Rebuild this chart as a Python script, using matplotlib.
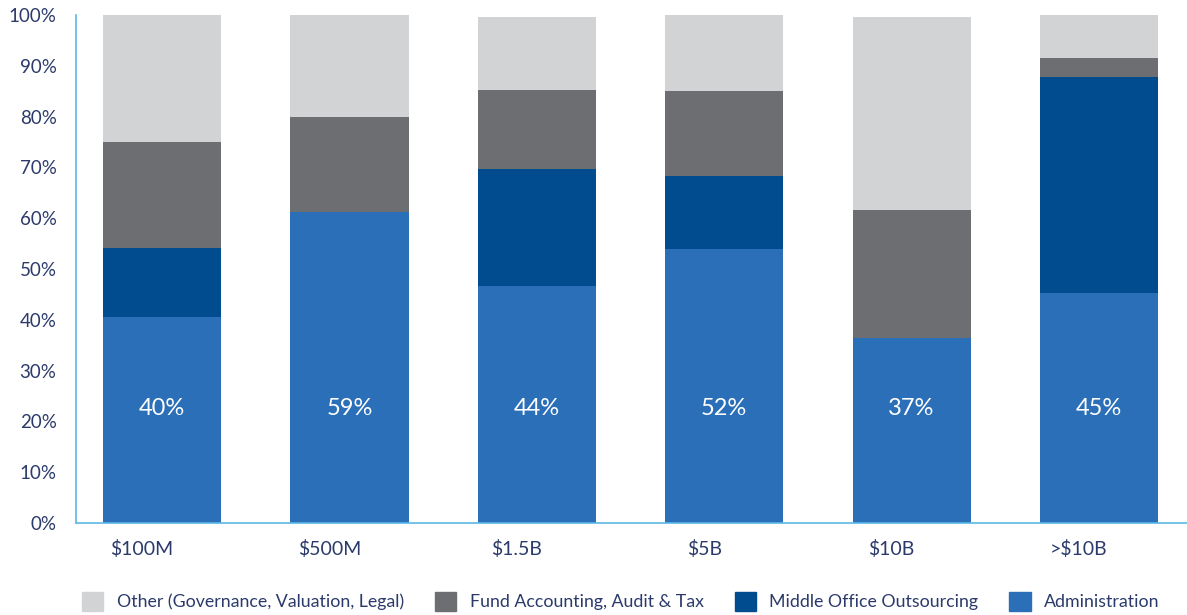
import numpy as np
import matplotlib
matplotlib.use("Agg")
from matplotlib import pyplot as plt
from matplotlib.patches import Patch
from matplotlib.transforms import ScaledTranslation

# data (segment heights, %)
categories = ["$100M", "$500M", "$1.5B", "$5B", "$10B", ">$10B"]
administration = [40.6, 61.2, 46.7, 53.9, 36.4, 45.3]
middle_office = [13.5, 0.0, 23.0, 14.4, 0.0, 42.5]
fund_accounting = [20.9, 18.7, 15.5, 16.7, 25.2, 3.7]
other = [25.0, 20.1, 14.4, 15.0, 38.0, 8.5]
admin_labels = ["40%", "59%", "44%", "52%", "37%", "45%"]

series_names = ["Other (Governance, Valuation, Legal)", "Fund Accounting, Audit & Tax",
                "Middle Office Outsourcing", "Administration"]
colors = {"admin": "#2a6fb7", "mo": "#004c8f", "fa": "#6d6e72", "other": "#d2d3d5"}
text_color = "#2b3a6b"
spine_color = "#5bb8e6"

plt.rcParams['font.family'] = ['Lato', 'DejaVu Sans']

fig = plt.figure(figsize=(11.87, 6.15), dpi=100)
ax = fig.add_axes([0.064, 0.1496, 0.936, 0.826])

x = np.arange(len(categories))
w = 0.63
b1 = np.array(administration)
b2 = b1 + np.array(middle_office)
b3 = b2 + np.array(fund_accounting)

ax.bar(x, administration, w, color=colors["admin"])
ax.bar(x, middle_office, w, bottom=b1, color=colors["mo"])
ax.bar(x, fund_accounting, w, bottom=b2, color=colors["fa"])
ax.bar(x, other, w, bottom=b3, color=colors["other"])

for xi, lab in zip(x, admin_labels):
    ax.text(xi, 22.6, lab, ha="center", va="center", color="white", fontsize=17)

ax.set_ylim(0, 100)
ax.set_xlim(-0.46, 5.47)
ax.set_yticks(np.arange(0, 101, 10))
ax.set_yticklabels([f"{v}%" for v in range(0, 101, 10)])
ax.set_xticks(x)
ax.set_xticklabels(categories)
ax.tick_params(axis="y", length=0, pad=14, labelsize=13.5, labelcolor=text_color)
ax.tick_params(axis="x", length=0, pad=12, labelsize=14, labelcolor=text_color)

# category labels sit a little left of the bar centres in the reference
shift = ScaledTranslation(-0.2, 0, fig.dpi_scale_trans)
for lbl in ax.get_xticklabels():
    lbl.set_transform(lbl.get_transform() + shift)

for s in ["top", "right"]:
    ax.spines[s].set_visible(False)
for s in ["left", "bottom"]:
    ax.spines[s].set_color(spine_color)
    ax.spines[s].set_linewidth(1.2)

handles = [Patch(color=colors[k]) for k in ["other", "fa", "mo", "admin"]]
leg = fig.legend(handles, series_names, loc="center", bbox_to_anchor=(0.523, 0.022),
                 ncol=4, frameon=False, fontsize=12.8, handlelength=1.2, handleheight=1.2,
                 columnspacing=1.75, handletextpad=0.75)
for t in leg.get_texts():
    t.set_color(text_color)

fig.savefig("out.png", dpi=100)
